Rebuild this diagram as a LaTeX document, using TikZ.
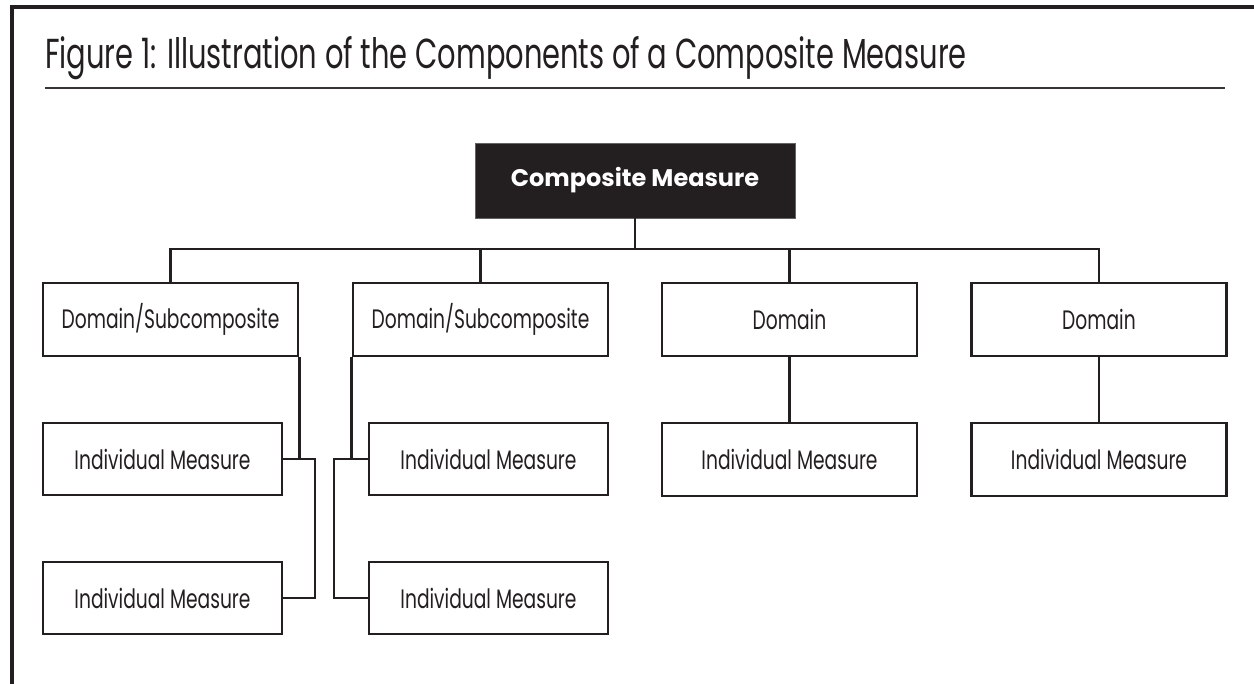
\documentclass[tikz,border=0pt]{standalone}
\usepackage{fontspec}
\setmainfont{Poppins}
\newfontfamily\boxfont[FakeStretch=0.70]{Poppins}
\newfontfamily\titlefont{Poppins}
\usepackage{graphicx}
\definecolor{ink}{HTML}{231F20}
\begin{document}
\begin{tikzpicture}[x=0.75pt,y=-0.75pt,
  line/.style={draw=ink,line width=2pt},
  plainbox/.style={draw=ink,line width=2pt,fill=white,inner sep=0pt,text=ink,
     font=\boxfont\fontsize{20pt}{22pt}\selectfont},
  dombox/.style={plainbox,minimum width=255*0.75pt,minimum height=73*0.75pt},
  indbox/.style={plainbox,minimum width=239*0.75pt,minimum height=72*0.75pt},
  indwide/.style={plainbox,minimum width=255*0.75pt,minimum height=73*0.75pt},
  topbox/.style={fill=ink,draw=ink!70,line width=0.5pt,text=white,inner sep=0pt,
     minimum width=320*0.75pt,minimum height=75*0.75pt,
     font=\fontsize{18pt}{20pt}\selectfont\bfseries}]
\useasboundingbox (0,0) rectangle (1254,684);
% frame
\coordinate (fbl) at (12,684);
\coordinate (fc) at (12,7);
\coordinate (ftr) at (1254,7);
\draw[ink,line width=2.4pt,line join=miter] (fbl) -- (fc) -- (ftr);
% title
\node[anchor=base west,inner sep=0pt,text=ink] (title) at (45,69)
  {\resizebox{691pt}{24pt}{\titlefont Figure 1: Illustration of the Components of a Composite Measure}};
\coordinate (ul1) at (45,88);
\coordinate (ul2) at (1225,88);
\draw[ink!90,line width=2.2pt] (ul1) -- (ul2);
% nodes
\node[topbox] (comp) at (635,180.5) {Composite Measure};
\node[dombox] (d1) at (170.5,319.5) {Domain/Subcomposite};
\node[dombox] (d2) at (480.5,319.5) {Domain/Subcomposite};
\node[dombox] (d3) at (789.5,319.5) {Domain};
\node[dombox] (d4) at (1099,319.5) {Domain};
\node[indbox] (i1a) at (162.5,459) {Individual Measure};
\node[indbox] (i1b) at (162.5,598) {Individual Measure};
\node[indbox] (i2a) at (488.5,459) {Individual Measure};
\node[indbox] (i2b) at (488.5,598) {Individual Measure};
\node[indwide] (i3) at (789.5,459.5) {Individual Measure};
\node[indwide] (i4) at (1099,459.5) {Individual Measure};
% connectors
\coordinate (bar) at (635,249);
\coordinate (j1) at (315,459);
\coordinate (j2) at (334,459);
\draw[line] (comp.south) -- (bar);
\draw[line] (d1.north) |- (bar) -| (d4.north);
\draw[line] (d2.north) -- (d2.north |- bar);
\draw[line] (d3.north) -- (d3.north |- bar);
\draw[line] (d1.south east) -- (d1.south east |- i1a.east);
\draw[line] (i1a.east) -| (j1) |- (i1b.east);
\draw[line] (d2.south west) -- (d2.south west |- i2a.west);
\draw[line] (i2a.west) -| (j2) |- (i2b.west);
\draw[line] (d3.south) -- (i3.north);
\draw[line] (d4.south) -- (i4.north);
\end{tikzpicture}
\end{document}
